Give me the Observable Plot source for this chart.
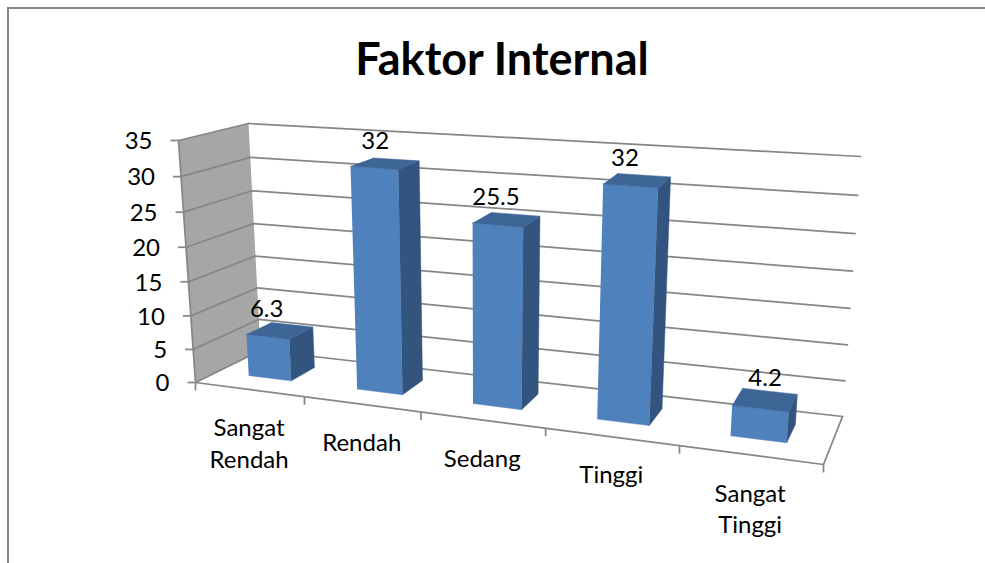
<!DOCTYPE html>
<html>
<head>
<meta charset="utf-8">
<script src="https://cdn.jsdelivr.net/npm/d3@7"></script>
<script src="https://cdn.jsdelivr.net/npm/@observablehq/plot@0.6"></script>
<style>
html,body{margin:0;padding:0;background:#fff;overflow:hidden}
#chart{position:relative;width:985px;height:563px}
#edge{position:absolute;left:7px;top:7px;right:0;bottom:0;border-left:2px solid #868686;border-top:2px solid #868686}
#title{position:absolute;left:0;width:1004px;top:31px;text-align:center;font:bold 45px Lato,sans-serif;color:#000;line-height:54px}
svg{position:absolute;left:0;top:0}
</style>
</head>
<body>
<div id="chart"><div id="edge"></div><div id="title">Faktor Internal</div></div>
<script>
const categories = ["Sangat\nRendah", "Rendah", "Sedang", "Tinggi", "Sangat\nTinggi"];
const values = [6.3, 32, 25.5, 32, 4.2];
const valueLabels = ["6.3", "32", "25.5", "32", "4.2"];
const yTicks = [0, 5, 10, 15, 20, 25, 30, 35];

// Perspective box of the 3-D chart
const box = {
  flb: [195, 382], frb: [823, 464], blb: [260, 350], brb: [842, 416],
  flt: [178, 140], frt: [844, 187], blt: [248, 123], brt: [860, 156]
};
const labelNudge = [0, 3, 2, 0, 12];
const nCat = categories.length, vMax = 35;
const warpU = u => 0.168 * u / (1 - 0.032 * u);
const warpV = v => { const t = v / vMax; return 0.95 * t / (1 - 0.05 * t); };
const mix = (a, b, t) => [a[0] + (b[0] - a[0]) * t, a[1] + (b[1] - a[1]) * t];
function project(cat, val, depth) {
  const f = warpU(cat), v = warpV(val);
  const bottom = mix(mix(box.flb, box.frb, f), mix(box.blb, box.brb, f), depth);
  const top = mix(mix(box.flt, box.frt, f), mix(box.blt, box.brt, f), depth);
  const p = mix(bottom, top, v);
  return {x: p[0], y: p[1]};
}
const gapLo = 0.3, gapHi = 0.7, dFront = 0.34, dBack = 0.73;

const poly = (id, pts) => pts.map(p => ({id, ...project(...p)}));
const fronts = values.flatMap((v, i) => poly(i, [[i+gapLo,0,dFront],[i+gapHi,0,dFront],[i+gapHi,v,dFront],[i+gapLo,v,dFront]]));
const sides = values.flatMap((v, i) => poly(i, [[i+gapHi,0,dFront],[i+gapHi,0,dBack],[i+gapHi,v,dBack],[i+gapHi,v,dFront]]));
const tops = values.flatMap((v, i) => poly(i, [[i+gapLo,v,dFront],[i+gapHi,v,dFront],[i+gapHi,v,dBack],[i+gapLo,v,dBack]]));
const wall = poly("wall", [[0,0,0],[0,0,1],[0,vMax,1],[0,vMax,0]]);
const wallLines = yTicks.flatMap(t => poly(t, [[0,t,0],[0,t,1]]));
const backLines = yTicks.flatMap(t => poly(t, [[0,t,1],[nCat,t,1]]));
const floorLines = [...poly("front", [[0,0,0],[nCat,0,0]]), ...poly("right", [[nCat,0,0],[nCat,0,1]])];
const leftEdge = poly("left", [[0,0,0],[0,vMax,0]]);
const yTickRows = yTicks.map(t => ({t, ...project(0, t, 0)}));
const xTickRows = d3.range(nCat + 1).map(i => project(i, 0, 0));
const catRows = categories.map((c, i) => ({c, ...project(i + 0.5, 0, 0)}));
const valRows = values.map((v, i) => ({l: valueLabels[i], nudge: labelNudge[i], ...project(i + 0.5, v, 0.5)}));

const grid = "#868686", font = "Lato, sans-serif";
const lineOpts = {x: "x", y: "y", z: "id", stroke: grid, strokeWidth: 1.75};
const faceOpts = fill => ({x: "x", y: "y", z: "id", fill, stroke: fill, strokeWidth: 0.5});

const svg = Plot.plot({
  width: 985, height: 563, margin: 0,
  style: {background: "transparent", overflow: "visible"},
  x: {domain: [0, 985], range: [0, 985], axis: null},
  y: {domain: [0, 563], range: [0, 563], axis: null},
  marks: [
    Plot.line(wall, {x: "x", y: "y", z: "id", fill: "#a6a6a6", stroke: "none"}),
    Plot.line(leftEdge, lineOpts),
    Plot.line(wallLines, lineOpts),
    Plot.line(backLines, lineOpts),
    Plot.line(floorLines, lineOpts),
    Plot.link(yTickRows, {x1: d => d.x - 8, x2: "x", y1: "y", y2: "y", stroke: grid, strokeWidth: 1.75}),
    Plot.link(xTickRows, {x1: "x", x2: "x", y1: "y", y2: d => d.y + 8, stroke: grid, strokeWidth: 1.75}),
    Plot.line(fronts, faceOpts("#4f81bd")),
    Plot.line(sides, faceOpts("#32547e")),
    Plot.line(tops, faceOpts("#3d6596")),
    Plot.text(yTickRows, {x: "x", y: "y", text: d => String(d.t), textAnchor: "end", dx: -26, dy: 1, fontSize: 24, fontFamily: font, fill: "#000"}),
    Plot.text(catRows, {x: "x", y: "y", text: "c", lineAnchor: "top", dy: 24, lineHeight: 1.33, fontSize: 24, fontFamily: font, fill: "#000"}),
    Plot.text(valRows, {x: d => d.x + d.nudge, y: "y", text: "l", dx: -11, dy: -23, fontSize: 24, fontFamily: font, fill: "#000"})
  ]
});
document.getElementById("chart").appendChild(svg);
</script>
</body>
</html>
